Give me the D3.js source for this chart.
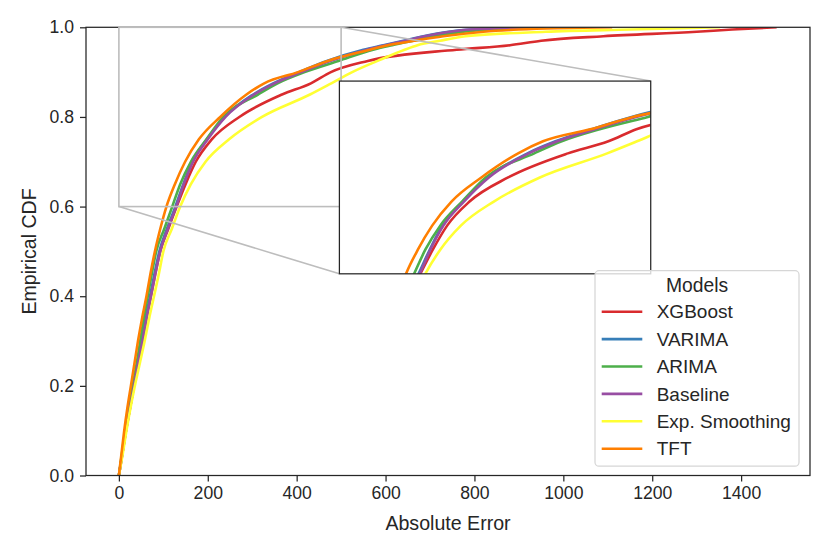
<!DOCTYPE html>
<html>
<head>
<meta charset="utf-8">
<script src="https://cdn.jsdelivr.net/npm/d3@7"></script>
<style>
  body { margin: 0; background: #fff; }
  text { font-family: "Liberation Sans", Arial, sans-serif; fill: #262626; }
</style>
</head>
<body>
<div id="chart"></div>
<script>
// CDF levels shared by every model, and the absolute error reached at each level
const cdfLevels = [0, 0.05, 0.1, 0.15, 0.2, 0.25, 0.3, 0.35, 0.4, 0.45, 0.5, 0.55, 0.6, 0.65,
  0.7, 0.75, 0.8, 0.85, 0.875, 0.9, 0.925, 0.95, 0.96, 0.97, 0.98, 0.99, 0.995, 1.0];

const models = ["XGBoost", "VARIMA", "ARIMA", "Baseline", "Exp. Smoothing", "TFT"];
const colors = ["#d92b2e", "#377eb8", "#4daf4a", "#984ea3", "#ffff33", "#ff7f00"];

const xgboost = [0, 8, 16, 25, 34, 43, 53, 62, 72, 82, 93, 111, 130, 150,
  173, 209, 271, 367, 432, 477, 560, 760, 880, 950, 1090, 1300, 1380, 1480];
const varima = [0, 8, 15, 24, 33, 42, 51, 60, 70, 80, 91, 108, 127, 145,
  165, 198, 238, 302, 347, 405, 468, 550, 595, 640, 685, 742, 790, 950];
const arima = [0, 7, 14, 22, 31, 40, 48, 56, 65, 74, 84, 102, 120, 138,
  162, 197, 235, 313, 357, 418, 494, 572, 615, 662, 710, 775, 835, 960];
const baseline = [0, 8, 16, 25, 34, 43, 53, 62, 72, 82, 93, 110, 129, 146,
  167, 200, 240, 304, 350, 410, 475, 558, 600, 645, 688, 745, 790, 955];
const expSmoothing = [0, 9, 17, 26, 36, 47, 58, 68, 79, 90, 100, 119, 138, 162,
  195, 248, 322, 430, 478, 525, 582, 643, 672, 722, 780, 960, 1150, 1353];
const tft = [0, 6, 12, 19, 27, 35, 43, 52, 62, 71, 81, 93, 107, 126,
  149, 180, 228, 287, 327, 403, 470, 565, 605, 665, 730, 820, 900, 1110];

const errors = [xgboost, varima, arima, baseline, expSmoothing, tft];

const xTicks = [0, 200, 400, 600, 800, 1000, 1200, 1400];
const yTicks = [0, 0.2, 0.4, 0.6, 0.8, 1.0];

const width = 830, height = 554;
const margin = { top: 27.3, right: 20, bottom: 78.5, left: 86 };
const innerW = width - margin.left - margin.right;
const innerH = height - margin.top - margin.bottom;

const svg = d3.select("#chart").append("svg")
  .attr("width", width)
  .attr("height", height);

const g = svg.append("g")
  .attr("transform", `translate(${margin.left},${margin.top})`);

const x = d3.scaleLinear().domain([-74, 1555]).range([0, innerW]);
const y = d3.scaleLinear().domain([0, 1]).range([innerH, 0]);

const series = models.map((name, i) => ({
  name,
  color: colors[i],
  points: errors[i].map((e, j) => [e, cdfLevels[j]])
}));

// axes
const xAxis = g.append("g")
  .attr("transform", `translate(0,${innerH})`)
  .call(d3.axisBottom(x).tickValues(xTicks).tickSize(6).tickPadding(5).tickFormat(d3.format("d")));
const yAxis = g.append("g")
  .call(d3.axisLeft(y).tickValues(yTicks).tickSize(6).tickPadding(6).tickFormat(d3.format(".1f")));

[xAxis, yAxis].forEach(a => {
  a.select(".domain").remove();
  a.selectAll(".tick line").attr("stroke", "#262626").attr("stroke-width", 1.25);
  a.selectAll(".tick text").attr("font-size", 17.6).style("fill", "#262626");
});

// main lines
const clip = svg.append("defs");
clip.append("clipPath").attr("id", "mainClip")
  .append("rect").attr("width", innerW).attr("height", innerH);

const line = d3.line().curve(d3.curveMonotoneX).x(d => x(d[0])).y(d => y(d[1]));

g.append("g").attr("clip-path", "url(#mainClip)")
  .selectAll("path")
  .data(series)
  .join("path")
  .attr("fill", "none")
  .attr("stroke", d => d.color)
  .attr("stroke-width", 2.6)
  .attr("stroke-linejoin", "round")
  .attr("d", d => line(d.points));

// frame
g.append("rect")
  .attr("width", innerW).attr("height", innerH)
  .attr("fill", "none").attr("stroke", "#262626").attr("stroke-width", 1.25);

// inset axes: x 0..500, y 0.6..1.0
const zoomX = [0, 500], zoomY = [0.6, 1.0];
const inset = { left: 0.35 * innerW, top: innerH * (1 - 0.45 - 0.43), w: 0.43 * innerW, h: 0.43 * innerH };

const ix = d3.scaleLinear().domain(zoomX).range([0, inset.w]);
const iy = d3.scaleLinear().domain(zoomY).range([inset.h, 0]);

// indicator rectangle and connectors
const grey = "#bdbdbd";
g.append("rect")
  .attr("x", x(zoomX[0])).attr("y", y(zoomY[1]))
  .attr("width", x(zoomX[1]) - x(zoomX[0]))
  .attr("height", y(zoomY[0]) - y(zoomY[1]))
  .attr("fill", "none").attr("stroke", grey).attr("stroke-width", 1.6);

g.append("line")
  .attr("x1", x(zoomX[1])).attr("y1", y(zoomY[1]))
  .attr("x2", inset.left + inset.w).attr("y2", inset.top)
  .attr("stroke", grey).attr("stroke-width", 1.6);
g.append("line")
  .attr("x1", x(zoomX[0])).attr("y1", y(zoomY[0]))
  .attr("x2", inset.left).attr("y2", inset.top + inset.h)
  .attr("stroke", grey).attr("stroke-width", 1.6);

const ig = g.append("g").attr("transform", `translate(${inset.left},${inset.top})`);
clip.append("clipPath").attr("id", "insetClip")
  .append("rect").attr("width", inset.w).attr("height", inset.h);

ig.append("rect").attr("width", inset.w).attr("height", inset.h).attr("fill", "#fff");

const iline = d3.line().curve(d3.curveMonotoneX).x(d => ix(d[0])).y(d => iy(d[1]));
ig.append("g").attr("clip-path", "url(#insetClip)")
  .selectAll("path")
  .data(series)
  .join("path")
  .attr("fill", "none")
  .attr("stroke", d => d.color)
  .attr("stroke-width", 2.6)
  .attr("stroke-linejoin", "round")
  .attr("d", d => iline(d.points));

ig.append("rect").attr("width", inset.w).attr("height", inset.h)
  .attr("fill", "none").attr("stroke", "#262626").attr("stroke-width", 1.25);

// axis labels
svg.append("text")
  .attr("x", margin.left + innerW / 2).attr("y", 529.5)
  .attr("text-anchor", "middle").attr("font-size", 19.6)
  .text("Absolute Error");

svg.append("text")
  .attr("transform", `translate(35.5,${margin.top + innerH / 2}) rotate(-90)`)
  .attr("text-anchor", "middle").attr("font-size", 19.6)
  .text("Empirical CDF");

// legend
const lg = svg.append("g").attr("transform", "translate(595,270.7)");
lg.append("rect")
  .attr("width", 204).attr("height", 195.5).attr("rx", 4)
  .attr("fill", "#fff").attr("fill-opacity", 0.8)
  .attr("stroke", "#d6d6d6").attr("stroke-width", 1.25);

lg.append("text")
  .attr("x", 102).attr("y", 15).attr("dy", "0.35em")
  .attr("text-anchor", "middle").attr("font-size", 19.3)
  .text("Models");

const items = lg.selectAll("g.item")
  .data(series)
  .join("g")
  .attr("class", "item")
  .attr("transform", (d, i) => `translate(0,${41 + i * 27.4})`);

items.append("line")
  .attr("x1", 6.7).attr("x2", 47.3)
  .attr("stroke", d => d.color).attr("stroke-width", 2.6);

items.append("text")
  .attr("x", 61.7).attr("dy", "0.35em")
  .attr("font-size", 19)
  .text(d => d.name);
</script>
</body>
</html>
